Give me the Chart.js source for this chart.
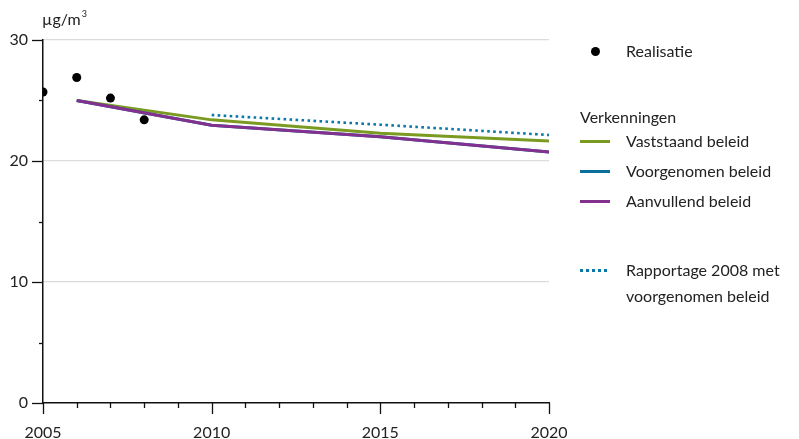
<!DOCTYPE html>
<html>
<head>
<meta charset="utf-8">
<script src="https://cdn.jsdelivr.net/npm/chart.js@4.4.1/dist/chart.umd.min.js"></script>
<style>
  html, body { margin: 0; padding: 0; background: #fff; }
  #wrap { position: relative; width: 799px; height: 439px; font-family: Lato, "Open Sans", sans-serif; color: #222; }
  #chart { position: absolute; left: 0; top: 0; }
  .lg { position: absolute; font-size: 16px; line-height: 26px; white-space: nowrap; }
  .sw { position: absolute; left: 580px; width: 30px; height: 0; }
</style>
</head>
<body>
<div id="wrap">
  <canvas id="chart" width="799" height="439"></canvas>
  <div id="legend"></div>
</div>
<script>
const realYears = [2005, 2006, 2007, 2008];
const realValues = [25.7, 26.9, 25.2, 23.4];

const projYears = [2006, 2010, 2015, 2020];
const vaststaand = [25.0, 23.4, 22.3, 21.65];
const voorgenomen = [25.0, 22.95, 22.0, 20.75];
const aanvullend = [25.0, 22.95, 22.0, 20.75];

const rapYears = [2010, 2015, 2020];
const rapportage = [23.8, 23.0, 22.15];

const yTicks = [0, 10, 20, 30];
const xTicks = [2005, 2010, 2015, 2020];

const GREEN = '#7b9a22';
const BLUE = '#0b6f9c';
const PURPLE = '#83308f';
const DOTBLUE = '#0a78aa';
const FONT = 'Lato, "Open Sans", sans-serif';

const pts = (xs, ys) => xs.map((x, i) => ({ x: x, y: ys[i] }));

// axis tick marks and unit label, drawn from the scales
const axisMarks = {
    id: 'axisMarks',
    afterDraw(chart) {
        const c = chart.ctx;
        const xs = chart.scales.x, ys = chart.scales.y;
        const left = chart.chartArea.left, bottom = chart.chartArea.bottom;
        c.save();
        c.strokeStyle = '#111';
        c.lineWidth = 1.3;
        for (let yr = 2005; yr <= 2020; yr++) {
            const px = Math.round(xs.getPixelForValue(yr)) + 0.5;
            const len = xTicks.includes(yr) ? 11 : 5;
            c.beginPath();
            c.moveTo(px, bottom);
            c.lineTo(px, bottom + len);
            c.stroke();
        }
        for (let v = 0; v <= 30; v += 5) {
            const py = Math.round(ys.getPixelForValue(v)) + 0.5;
            const len = yTicks.includes(v) ? 11 : 4;
            c.beginPath();
            c.moveTo(left - len, py);
            c.lineTo(left, py);
            c.stroke();
        }
        c.fillStyle = '#222';
        c.font = '16px ' + FONT;
        c.textBaseline = 'middle';
        c.fillText('\u00b5g/m', left - 1, 20);
        const w = c.measureText('\u00b5g/m').width;
        c.font = '9px ' + FONT;
        c.fillText('3', left - 1 + w + 1, 14);
        c.restore();
    }
};

const ctx = document.getElementById('chart');
new Chart(ctx, {
    type: 'line',
    data: {
        datasets: [
            { label: 'Realisatie', data: pts(realYears, realValues), showLine: false,
              pointRadius: 4.5, pointBackgroundColor: '#000', pointBorderWidth: 0, borderColor: '#000' },
            { label: 'Aanvullend beleid', data: pts(projYears, aanvullend), borderColor: PURPLE, borderWidth: 3, pointRadius: 0 },
            { label: 'Voorgenomen beleid', data: pts(projYears, voorgenomen), borderColor: BLUE, borderWidth: 3, pointRadius: 0 },
            { label: 'Vaststaand beleid', data: pts(projYears, vaststaand), borderColor: GREEN, borderWidth: 3, pointRadius: 0 },
            { label: 'Rapportage 2008 met voorgenomen beleid', data: pts(rapYears, rapportage), borderColor: DOTBLUE,
              borderWidth: 2.6, borderDash: [2.6, 3.4], pointRadius: 0 }
        ]
    },
    options: {
        responsive: false,
        animation: false,
        layout: { padding: { top: 40, right: 250, left: 0, bottom: 0 } },
        plugins: { legend: { display: false }, tooltip: { enabled: false } },
        scales: {
            x: {
                type: 'linear', min: 2005, max: 2020,
                afterFit: s => { s.height = 36; },
                afterBuildTicks: s => { s.ticks = xTicks.map(v => ({ value: v })); },
                grid: { display: false, drawTicks: false },
                border: { color: '#111', width: 1.5 },
                ticks: { color: '#222', padding: 20, font: { family: FONT, size: 16 }, maxRotation: 0, callback: v => String(v) }
            },
            y: {
                min: 0, max: 30,
                afterFit: s => { s.width = 43; },
                afterBuildTicks: s => { s.ticks = yTicks.map(v => ({ value: v })); },
                grid: { drawTicks: false, color: ctx => ctx.tick && ctx.tick.value === 0 ? 'rgba(0,0,0,0)' : '#dcdcdc', lineWidth: 1.2 },
                border: { color: '#111', width: 1.5 },
                ticks: { color: '#222', padding: 15, font: { family: FONT, size: 16 } }
            }
        }
    },
    plugins: [axisMarks]
});

// legend
const legend = document.getElementById('legend');
const items = [
    { kind: 'dot', y: 51, text: 'Realisatie' },
    { kind: 'head', y: 117, text: 'Verkenningen' },
    { kind: 'line', y: 141, color: GREEN, text: 'Vaststaand beleid' },
    { kind: 'line', y: 171, color: BLUE, text: 'Voorgenomen beleid' },
    { kind: 'line', y: 201, color: PURPLE, text: 'Aanvullend beleid' },
    { kind: 'dash', y: 270, color: DOTBLUE, text: 'Rapportage 2008 met<br>voorgenomen beleid' }
];
items.forEach(it => {
    const t = document.createElement('div');
    t.className = 'lg';
    t.innerHTML = it.text;
    t.style.left = (it.kind === 'head' ? 580 : 626) + 'px';
    t.style.top = (it.y - 13) + 'px';
    legend.appendChild(t);
    if (it.kind === 'dot') {
        const d = document.createElement('div');
        d.style.cssText = 'position:absolute;left:591px;top:' + (it.y - 4.5) + 'px;width:9px;height:9px;border-radius:50%;background:#000';
        legend.appendChild(d);
    } else if (it.kind === 'line') {
        const s = document.createElement('div');
        s.className = 'sw';
        s.style.top = (it.y - 1.5) + 'px';
        s.style.borderTop = '3px solid ' + it.color;
        legend.appendChild(s);
    } else if (it.kind === 'dash') {
        const s = document.createElement('div');
        s.className = 'sw';
        s.style.top = (it.y - 1.5) + 'px';
        s.style.height = '3px';
        s.style.background = 'repeating-linear-gradient(90deg,' + it.color + ' 0 3px, transparent 3px 6px)';
        legend.appendChild(s);
    }
});
</script>
</body>
</html>
